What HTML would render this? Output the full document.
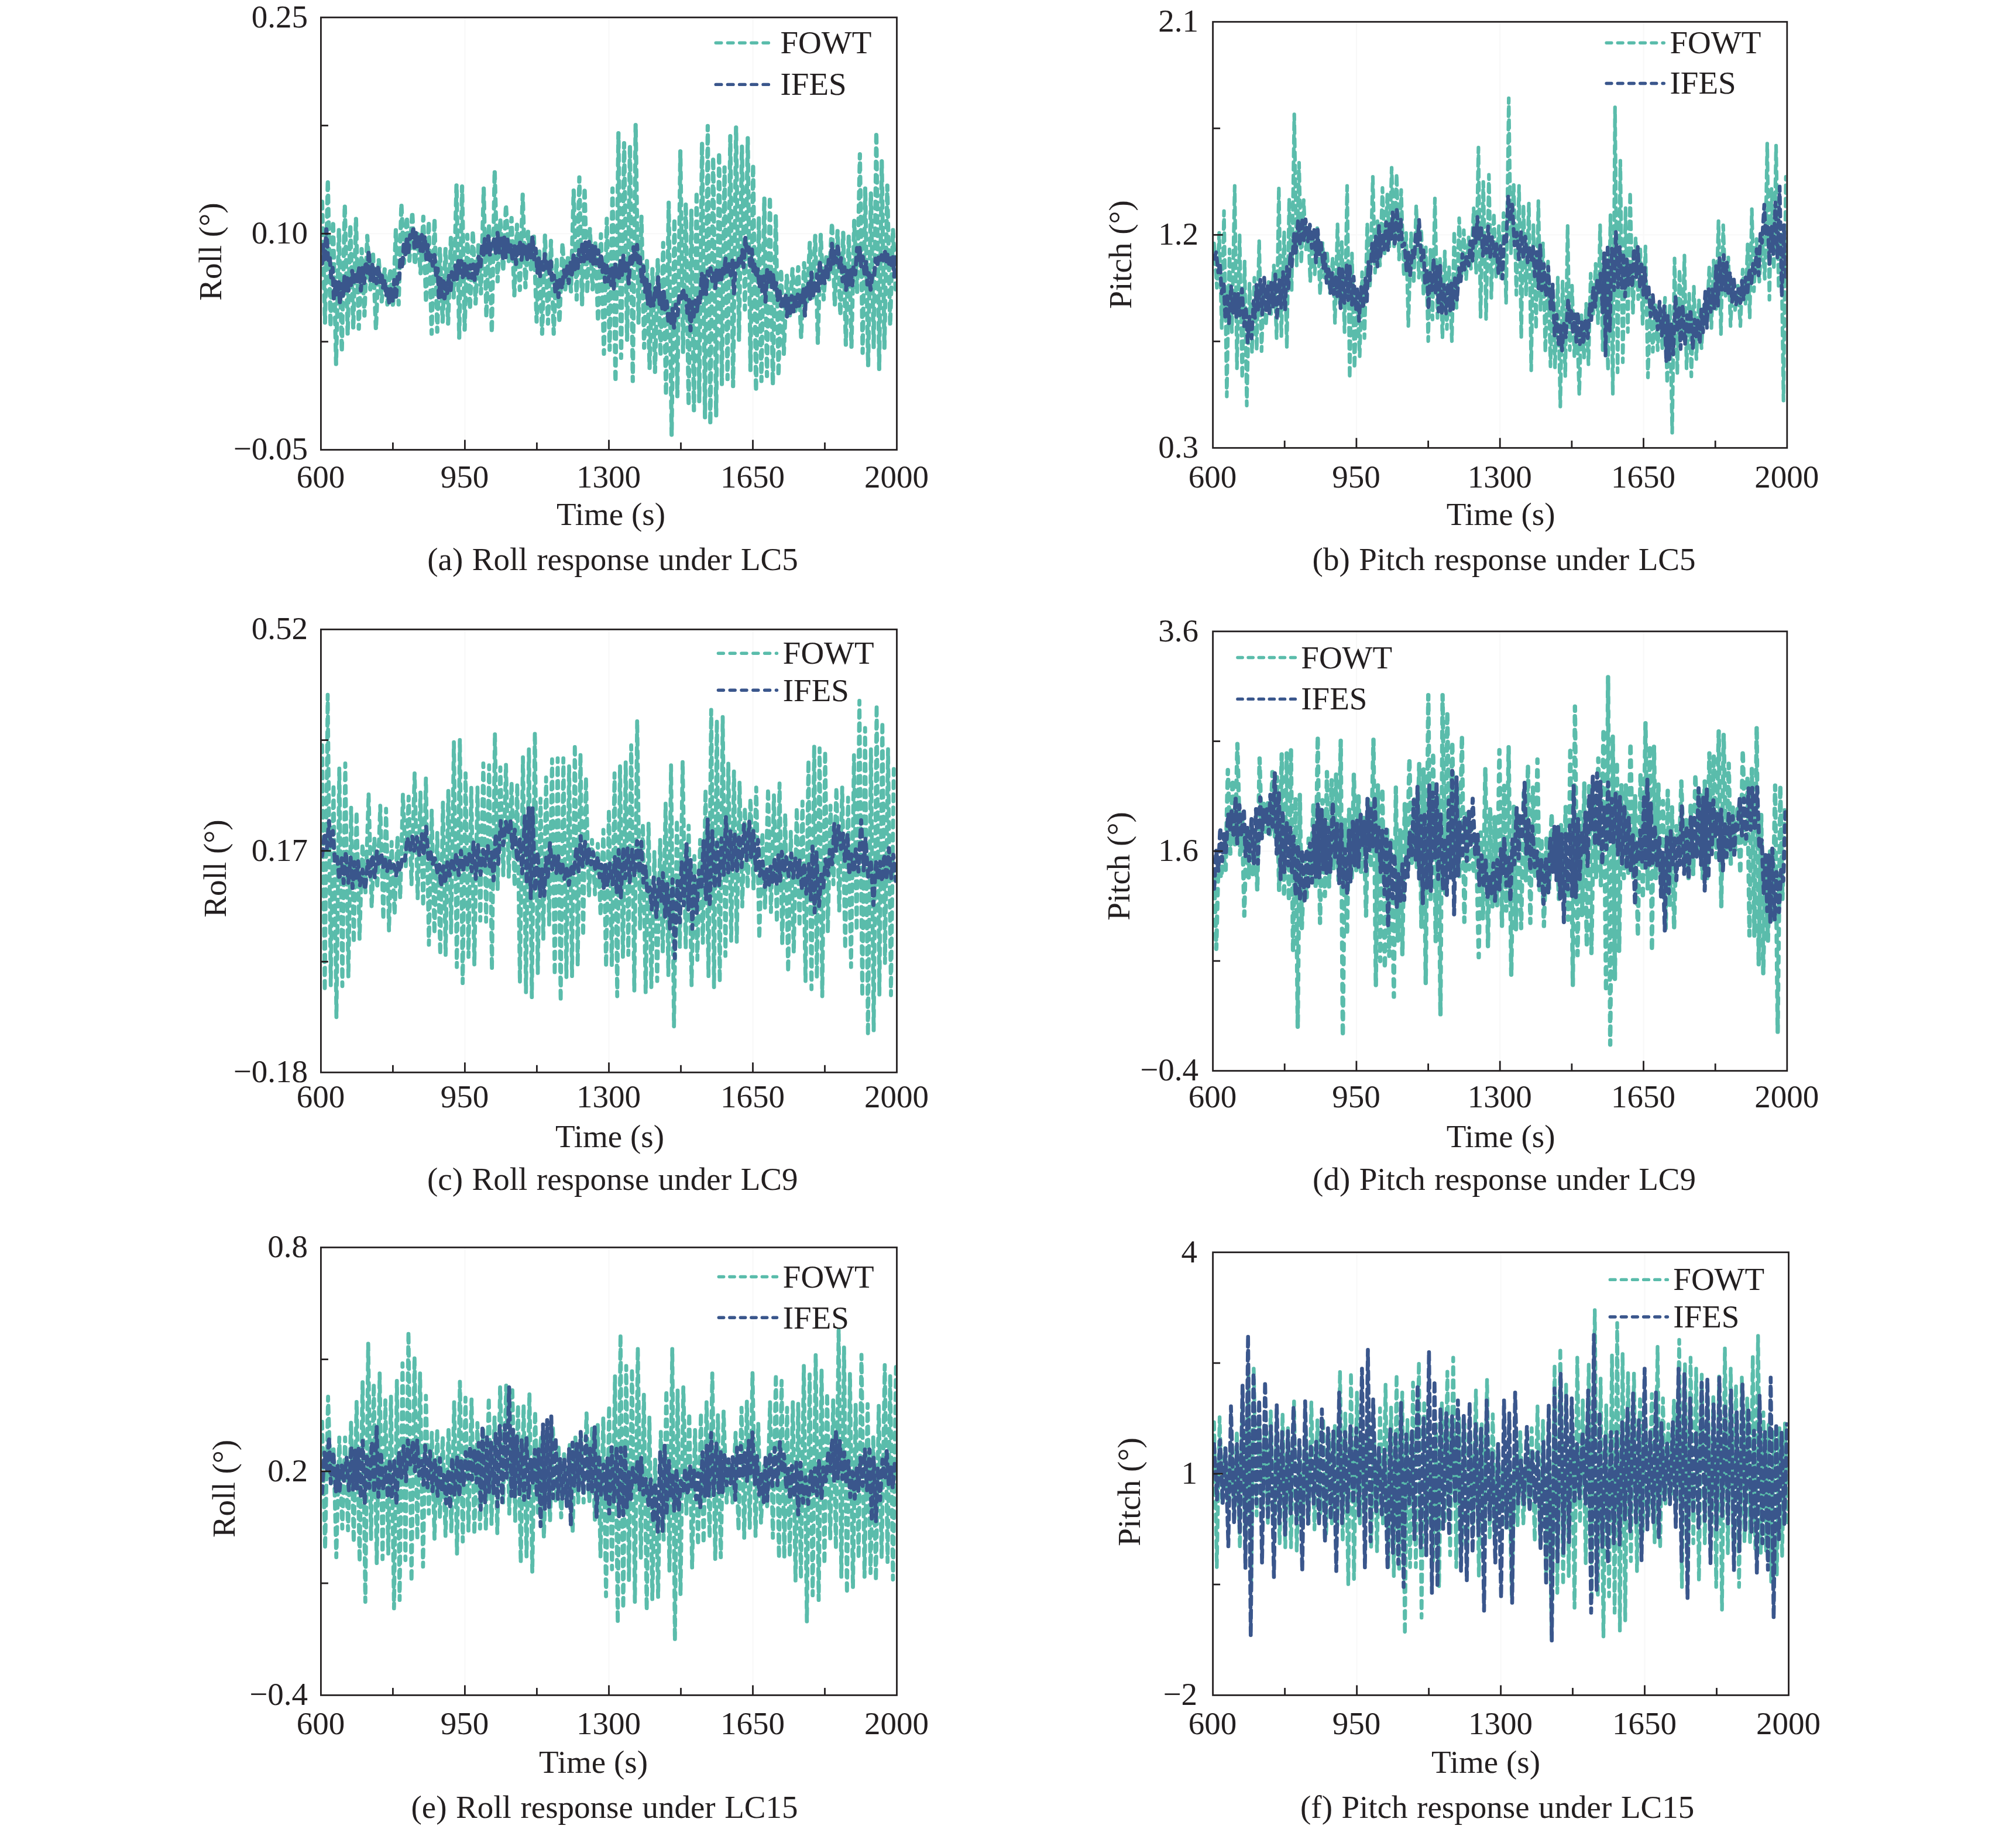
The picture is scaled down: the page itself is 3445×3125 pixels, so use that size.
<!DOCTYPE html>
<html lang="en"><head><meta charset="utf-8"><title>Roll and pitch responses under LC5, LC9 and LC15</title>
<style>
html,body{margin:0;padding:0;background:#fff;}
body{width:3445px;height:3125px;overflow:hidden;font-family:"Liberation Serif","Times New Roman",serif;}
svg{display:block;}
text{white-space:pre;}
</style></head><body>
<svg width="3445" height="3125" viewBox="0 0 3445 3125" font-family="'Liberation Serif', 'Times New Roman', serif" fill="#231f20">
<g stroke="#f8f8f8" stroke-width="2"><line x1="794.4" y1="29.8" x2="794.4" y2="768.5"/><line x1="1040.5" y1="29.8" x2="1040.5" y2="768.5"/><line x1="1286.5" y1="29.8" x2="1286.5" y2="768.5"/><line x1="548.4" y1="399.2" x2="1532.5" y2="399.2"/></g>
<clipPath id="cpa"><rect x="549.8" y="31.2" width="981.3" height="735.9"/></clipPath>
<g clip-path="url(#cpa)">
<polyline points="550.4,344.6 555.4,551.2 560.2,306.7 564.8,558.1 569.2,377.3 574.3,621.8 579.2,391.0 584.1,601.1 589.2,349.7 594.1,571.8 598.6,384.2 603.7,561.5 608.3,372.1 613.1,561.5 618.0,425.5 622.8,539.1 627.6,403.1 632.7,494.4 637.4,432.4 642.4,563.2 647.1,442.7 652.3,515.0 657.4,459.9 662.0,520.2 666.7,459.7 671.6,525.3 676.5,391.0 681.2,520.2 685.9,348.0 690.4,449.6 695.2,370.4 699.6,445.5 704.5,361.8 708.9,453.0 713.9,399.8 718.7,466.8 723.4,370.4 728.0,517.3 732.6,378.5 737.6,570.1 742.5,373.8 747.2,566.7 751.6,424.3 756.4,549.5 761.3,425.5 765.7,552.9 770.5,404.8 775.3,508.1 780.1,315.3 784.7,577.0 789.6,318.7 794.0,563.2 798.6,401.4 803.1,528.8 808.0,394.5 812.7,518.5 817.5,418.6 821.9,501.2 826.6,322.2 831.1,542.6 835.7,384.2 840.4,568.4 845.3,291.2 850.3,480.6 854.9,373.8 859.8,463.4 864.6,349.7 869.4,446.1 874.1,372.5 878.9,504.7 883.5,384.2 888.3,495.5 893.2,332.5 897.9,490.9 902.5,394.5 907.3,459.9 912.3,403.1 917.0,549.4 921.5,425.5 926.4,570.1 931.3,401.4 936.4,552.9 941.5,411.7 946.2,570.1 951.1,442.7 956.0,551.2 961.2,415.2 965.9,494.4 970.9,435.8 975.7,497.8 980.3,325.6 985.4,511.6 990.0,303.2 994.6,521.9 999.0,320.5 1003.4,501.2 1008.0,391.0 1012.6,494.4 1017.5,411.7 1021.9,549.4 1026.9,400.3 1032.0,604.5 1036.9,373.8 1041.8,597.7 1046.7,322.2 1051.8,652.8 1056.8,227.5 1061.4,611.4 1066.5,244.7 1071.6,580.4 1076.5,248.1 1081.3,651.0 1086.2,212.0 1091.1,551.2 1096.1,370.4 1100.7,594.2 1105.4,442.7 1110.0,628.7 1114.9,459.9 1119.3,635.5 1124.0,442.7 1128.7,608.0 1133.3,415.2 1138.1,675.1 1142.7,346.3 1147.7,744.0 1152.4,373.8 1157.5,676.9 1162.6,258.5 1167.2,601.1 1171.9,346.3 1176.7,692.4 1181.4,360.1 1185.8,701.0 1190.4,327.3 1194.9,685.5 1199.6,243.0 1204.7,713.0 1209.4,215.4 1213.8,725.1 1218.7,268.8 1223.8,709.6 1228.8,260.2 1233.5,656.2 1238.1,286.0 1243.2,647.6 1247.9,232.6 1252.7,659.6 1257.8,217.1 1262.8,580.4 1267.8,249.9 1272.9,528.8 1277.8,236.1 1282.4,632.1 1286.9,280.9 1291.9,668.3 1296.7,370.4 1301.1,651.0 1306.1,337.7 1310.6,642.4 1315.6,336.0 1320.6,657.9 1325.7,366.9 1330.3,642.4 1334.7,459.9 1339.4,604.5 1344.5,470.2 1349.6,539.1 1354.2,459.9 1358.9,535.7 1364.0,456.5 1369.0,577.0 1374.1,449.6 1379.1,515.0 1383.8,415.2 1388.3,511.6 1393.1,403.1 1397.5,585.6 1402.5,401.4 1407.4,511.6 1412.2,435.8 1416.8,477.1 1421.7,380.7 1426.5,521.9 1431.2,394.7 1436.0,538.8 1440.9,397.9 1445.4,589.0 1450.4,401.4 1455.0,592.5 1459.7,377.3 1464.6,501.2 1469.4,263.6 1474.1,602.8 1478.5,320.5 1483.5,625.2 1488.2,329.1 1493.0,594.2 1497.5,225.8 1502.4,630.4 1506.8,275.7 1511.3,594.2 1516.2,317.0 1521.1,556.3 1525.9,391.0 1530.4,494.4" fill="none" stroke="#5abcab" stroke-width="7.2" stroke-dasharray="11.5 11.3" stroke-linecap="round" stroke-linejoin="round" />
<polyline points="550.4,450.4 552.5,418.6 554.7,447.6 557.7,391.8 560.7,445.8 563.4,439.3 566.0,474.1 568.4,457.8 570.6,513.0 573.4,481.6 575.8,502.8 578.8,481.4 580.9,519.8 583.4,485.6 586.2,505.0 588.7,473.1 590.7,496.5 593.3,475.2 595.4,496.6 597.4,477.0 599.6,489.6 601.8,463.1 604.7,482.7 607.6,464.5 610.5,480.5 613.5,458.4 616.7,496.2 619.2,456.5 622.3,483.5 625.1,446.7 627.9,470.0 630.1,427.9 633.2,479.0 636.1,452.5 638.8,480.1 641.1,460.1 643.4,483.7 646.3,453.5 649.3,482.4 652.2,465.6 654.2,492.7 657.3,477.3 660.0,505.8 662.2,493.8 665.1,516.8 668.0,492.6 671.2,516.6 673.7,478.6 676.5,511.5 679.7,468.6 682.2,476.6 684.3,438.7 687.2,459.0 690.2,416.7 692.9,434.6 695.5,405.4 697.7,432.8 700.9,401.8 704.0,411.5 706.0,387.5 708.2,422.8 710.7,397.9 713.4,424.2 716.1,400.1 718.5,428.3 720.7,401.4 722.7,429.1 725.8,403.2 728.6,442.6 731.0,418.8 734.0,449.5 737.0,436.3 739.5,454.0 742.5,435.8 745.5,473.5 748.0,459.1 750.0,508.1 752.9,475.6 755.2,506.7 757.4,475.3 759.6,509.9 762.3,484.0 764.3,500.7 767.3,471.3 769.8,500.2 772.1,465.0 775.0,478.4 778.3,453.8 780.7,477.0 783.4,446.1 785.8,466.1 788.4,446.1 791.0,473.6 793.9,449.3 796.2,472.6 798.8,454.9 800.8,474.2 803.8,453.2 806.2,474.7 808.7,451.9 811.0,478.2 813.2,449.0 815.4,470.5 817.9,438.7 821.0,457.1 823.9,419.1 826.3,435.1 828.4,408.6 831.3,435.6 834.3,403.8 837.3,436.4 839.4,417.2 841.5,424.3 844.2,409.0 847.3,432.0 850.2,398.1 853.4,431.3 856.6,402.5 859.6,440.8 861.7,406.1 864.2,440.3 867.0,408.6 869.9,430.9 872.8,419.1 875.9,445.1 879.0,418.0 881.9,451.1 884.3,418.0 886.5,435.2 889.0,412.4 891.2,443.8 893.8,418.8 896.1,435.6 898.2,421.0 901.4,445.4 904.0,416.8 907.0,440.4 910.0,403.8 912.8,443.0 915.4,425.0 918.3,466.0 920.5,441.4 922.9,471.8 925.9,446.2 928.9,461.0 931.0,434.2 934.1,462.9 936.4,448.8 939.1,467.2 941.3,446.8 943.4,483.1 946.5,470.6 949.4,503.1 951.4,477.7 954.3,507.6 957.2,473.5 960.4,493.3 963.6,462.0 966.7,477.3 969.1,451.9 971.8,483.5 974.8,446.8 977.1,470.3 980.1,436.4 982.6,463.8 985.0,438.3 987.0,461.3 989.7,427.2 993.0,446.5 995.1,414.5 997.9,446.3 1000.8,410.7 1003.5,441.9 1006.6,413.3 1009.2,448.2 1011.6,420.0 1013.9,452.4 1016.7,421.4 1019.2,450.3 1022.2,427.8 1024.9,457.9 1027.2,433.2 1029.8,464.5 1031.8,448.3 1033.8,481.3 1036.4,448.9 1039.1,480.6 1042.3,460.5 1044.3,486.8 1046.7,457.8 1048.9,493.0 1051.4,451.3 1053.5,473.4 1055.6,456.5 1057.8,474.8 1060.0,444.0 1062.7,469.6 1065.3,437.0 1068.4,466.6 1071.5,445.3 1074.4,484.4 1077.4,433.9 1079.9,454.7 1082.6,422.4 1085.3,443.1 1088.5,418.4 1090.8,449.7 1093.5,439.6 1096.7,482.2 1099.5,455.3 1102.3,498.4 1104.6,477.6 1107.1,520.9 1109.7,486.4 1111.8,522.4 1114.2,505.9 1116.7,522.6 1119.5,491.2 1122.7,510.7 1124.7,473.8 1127.2,519.4 1129.3,500.6 1132.1,530.1 1134.2,498.5 1136.6,528.6 1139.2,514.8 1142.2,549.4 1144.7,536.6 1146.9,553.6 1149.2,527.7 1151.8,559.8 1154.7,520.5 1157.8,538.5 1161.0,504.4 1164.1,511.4 1167.3,492.2 1169.9,514.4 1172.3,505.1 1174.9,539.9 1177.4,512.3 1180.0,564.4 1182.8,516.1 1184.8,545.7 1188.1,513.5 1191.0,531.9 1193.3,508.3 1196.1,519.1 1199.3,466.6 1201.9,505.1 1204.1,472.0 1206.8,502.2 1209.3,463.7 1212.1,472.6 1214.2,458.2 1217.2,480.1 1219.4,465.1 1222.3,491.9 1224.3,462.1 1227.3,478.1 1229.5,460.7 1232.3,480.8 1234.9,457.0 1237.2,467.3 1239.9,441.8 1243.1,468.4 1245.7,451.3 1248.8,470.5 1251.8,445.2 1254.2,501.6 1257.2,450.2 1260.1,459.9 1262.7,442.4 1265.7,451.0 1268.6,426.9 1270.6,456.3 1273.7,405.9 1276.2,431.7 1279.3,422.7 1282.4,458.8 1284.9,426.6 1287.1,465.5 1289.4,448.7 1292.4,474.5 1294.8,460.0 1297.9,491.9 1300.3,470.0 1302.5,497.2 1305.5,472.2 1308.1,515.4 1311.0,459.9 1313.9,486.6 1316.0,462.5 1318.9,490.5 1320.9,469.9 1323.6,493.3 1326.8,483.6 1329.0,514.7 1331.8,494.1 1334.9,522.9 1338.0,507.1 1340.1,525.0 1342.8,505.2 1344.9,540.7 1347.3,510.2 1349.9,539.7 1352.9,505.9 1356.1,532.1 1358.6,506.3 1361.0,523.4 1363.3,503.2 1365.4,522.2 1368.2,503.9 1370.4,516.5 1373.1,494.3 1375.5,539.7 1377.5,488.4 1379.8,505.3 1382.2,479.0 1384.3,510.4 1386.6,466.1 1389.3,506.4 1392.0,482.9 1394.0,501.1 1396.2,468.7 1398.7,497.0 1400.8,444.9 1403.4,484.7 1406.4,462.6 1409.1,484.2 1411.4,453.7 1414.1,476.1 1416.1,443.9 1418.7,460.2 1421.6,416.6 1423.8,450.7 1426.9,429.6 1429.7,448.2 1431.7,416.5 1434.7,459.4 1437.1,440.9 1439.9,480.6 1443.1,456.8 1445.8,495.2 1448.0,462.7 1450.7,489.6 1453.9,460.6 1456.4,487.5 1458.5,454.9 1461.5,468.8 1464.7,423.7 1466.8,443.9 1468.9,423.6 1471.6,455.1 1474.4,438.4 1477.4,468.7 1480.1,446.8 1482.2,486.1 1484.8,466.6 1487.7,494.9 1490.8,467.5 1493.8,471.6 1496.2,441.9 1499.0,455.3 1502.0,434.9 1505.1,443.8 1507.5,431.5 1509.5,444.6 1512.2,429.8 1514.6,449.7 1516.8,432.5 1519.2,450.5 1521.7,439.7 1523.8,457.2 1526.0,438.6 1528.1,472.6 1530.8,432.8" fill="none" stroke="#3a568c" stroke-width="7.0" stroke-dasharray="11.5 11" stroke-linecap="round" stroke-linejoin="round" />
</g>
<g stroke="#231f20" stroke-width="2.8"><line x1="671.4" y1="768.5" x2="671.4" y2="756.0"/><line x1="794.4" y1="768.5" x2="794.4" y2="751.5"/><line x1="917.4" y1="768.5" x2="917.4" y2="756.0"/><line x1="1040.5" y1="768.5" x2="1040.5" y2="751.5"/><line x1="1163.5" y1="768.5" x2="1163.5" y2="756.0"/><line x1="1286.5" y1="768.5" x2="1286.5" y2="751.5"/><line x1="1409.5" y1="768.5" x2="1409.5" y2="756.0"/><line x1="548.4" y1="214.5" x2="560.9" y2="214.5"/><line x1="548.4" y1="399.2" x2="565.4" y2="399.2"/><line x1="548.4" y1="583.8" x2="560.9" y2="583.8"/><rect x="548.4" y="29.8" width="984.1" height="738.7" fill="none"/></g>
<text x="526.0" y="46.6" text-anchor="end" font-size="55">0.25</text>
<text x="526.0" y="416.0" text-anchor="end" font-size="55">0.10</text>
<text x="526.0" y="785.3" text-anchor="end" font-size="55">−0.05</text>
<text x="547.9" y="832.7" text-anchor="middle" font-size="55">600</text>
<text x="793.9" y="832.7" text-anchor="middle" font-size="55">950</text>
<text x="1040.0" y="832.7" text-anchor="middle" font-size="55">1300</text>
<text x="1286.0" y="832.7" text-anchor="middle" font-size="55">1650</text>
<text x="1532.0" y="832.7" text-anchor="middle" font-size="55">2000</text>
<text x="1044.0" y="897.0" text-anchor="middle" font-size="55">Time (s)</text>
<text word-spacing="1.8" x="1047.0" y="974.0" text-anchor="middle" font-size="55">(a) Roll response under LC5</text>
<text x="378.0" y="430.1" text-anchor="middle" font-size="55" transform="rotate(-90 378.0 430.1)">Roll (°)</text>
<line x1="1223.2" y1="73.3" x2="1313.4" y2="73.3" stroke="#5abcab" stroke-width="5.4" stroke-dasharray="9.6 10.6" stroke-linecap="round"/>
<line x1="1223.2" y1="144.4" x2="1313.4" y2="144.4" stroke="#3a568c" stroke-width="5.4" stroke-dasharray="9.6 10.6" stroke-linecap="round"/>
<text x="1333.5" y="91.3" text-anchor="start" font-size="55">FOWT</text>
<text x="1333.5" y="161.8" text-anchor="start" font-size="55">IFES</text>
<g stroke="#f8f8f8" stroke-width="2"><line x1="2317.9" y1="37.3" x2="2317.9" y2="765.3"/><line x1="2563.2" y1="37.3" x2="2563.2" y2="765.3"/><line x1="2808.5" y1="37.3" x2="2808.5" y2="765.3"/><line x1="2072.6" y1="401.3" x2="3053.8" y2="401.3"/></g>
<clipPath id="cpb"><rect x="2074.0" y="38.7" width="978.4" height="725.2"/></clipPath>
<g clip-path="url(#cpb)">
<polyline points="2074.6,415.8 2079.4,491.6 2083.4,397.8 2087.7,560.4 2091.6,360.7 2096.4,677.5 2101.0,426.1 2105.1,567.3 2109.9,317.7 2113.7,629.3 2118.3,402.0 2122.7,646.5 2126.9,446.8 2130.5,693.0 2135.2,484.7 2139.5,602.7 2143.5,474.6 2147.5,598.3 2151.7,410.6 2155.8,600.0 2159.4,491.6 2163.3,556.0 2167.9,481.9 2172.0,536.3 2176.8,453.7 2181.5,577.7 2185.3,319.4 2189.6,574.2 2194.4,395.2 2199.0,594.9 2203.0,339.1 2207.2,498.2 2211.7,195.4 2215.8,453.7 2219.9,278.1 2223.6,450.2 2227.8,341.8 2231.7,426.1 2235.3,388.3 2239.0,481.2 2242.9,393.2 2246.7,468.6 2251.0,388.3 2255.8,503.6 2259.9,415.3 2263.5,474.4 2267.9,433.0 2272.7,500.9 2277.4,439.9 2281.2,551.8 2285.6,383.1 2289.2,519.1 2292.9,412.6 2297.6,567.4 2302.0,317.7 2306.4,646.5 2310.3,433.0 2314.6,629.3 2318.7,501.9 2323.5,608.7 2327.6,465.2 2331.7,577.7 2336.4,381.4 2341.0,491.6 2345.9,302.2 2349.7,466.0 2353.9,377.9 2358.1,453.7 2362.4,321.1 2366.0,433.0 2370.7,332.0 2374.4,421.1 2378.1,286.7 2382.2,421.0 2386.6,297.0 2390.8,443.4 2394.4,324.6 2398.8,471.8 2402.8,398.0 2406.6,557.0 2411.4,398.6 2415.8,484.7 2420.1,350.4 2424.6,474.4 2428.7,391.7 2432.4,503.8 2436.5,422.7 2440.6,582.8 2444.3,426.9 2447.9,545.9 2452.0,339.0 2456.4,543.2 2460.7,439.9 2464.9,577.7 2468.9,429.6 2472.5,562.1 2476.2,455.2 2481.0,582.8 2485.0,395.2 2489.0,526.0 2493.5,372.8 2497.4,474.4 2501.4,393.4 2505.4,477.8 2509.8,405.5 2513.5,459.2 2518.3,355.8 2522.5,467.5 2526.4,252.2 2530.0,541.5 2534.7,310.8 2539.5,544.9 2544.3,298.7 2548.4,508.8 2552.7,364.2 2556.7,474.4 2561.3,386.3 2565.2,475.2 2569.3,364.2 2573.7,517.4 2578.2,167.9 2581.9,433.0 2586.7,316.0 2591.2,503.6 2595.8,317.7 2599.6,577.7 2603.3,350.4 2607.8,505.3 2612.6,346.9 2616.6,632.8 2620.3,384.6 2624.9,562.0 2628.8,343.5 2632.5,529.4 2636.7,415.8 2640.7,601.8 2645.3,446.8 2649.5,625.9 2653.4,487.7 2657.2,629.6 2662.0,474.4 2666.3,694.7 2670.2,481.2 2674.8,643.1 2678.8,384.8 2682.5,598.3 2686.3,488.1 2690.3,608.4 2694.2,536.3 2698.7,674.1 2702.4,537.0 2706.9,612.0 2710.5,519.1 2714.4,622.4 2718.2,467.5 2722.6,536.3 2726.7,450.8 2730.7,553.8 2734.3,384.8 2738.8,598.3 2743.0,439.9 2747.8,632.9 2752.0,367.6 2756.0,674.1 2759.8,183.4 2764.2,636.2 2768.9,274.6 2773.1,619.0 2777.8,353.8 2781.7,567.3 2785.6,328.0 2790.4,536.3 2795.1,405.9 2799.4,511.2 2803.0,426.1 2807.0,553.6 2811.8,421.0 2816.0,644.8 2820.6,508.8 2824.4,601.0 2828.7,518.5 2832.7,598.3 2836.8,526.0 2840.7,594.9 2845.2,508.8 2848.9,654.9 2853.5,522.1 2857.5,739.5 2861.5,441.6 2866.2,639.6 2870.0,460.6 2874.7,577.7 2878.4,436.5 2882.0,629.3 2886.6,501.9 2890.2,643.1 2894.5,489.8 2898.8,613.5 2903.2,511.9 2907.6,594.9 2911.6,519.1 2916.3,552.4 2920.8,457.1 2924.5,560.4 2928.3,445.2 2932.5,530.3 2936.6,377.9 2940.8,570.8 2944.7,384.8 2948.8,505.3 2953.4,439.9 2957.2,557.0 2961.1,477.8 2965.0,529.6 2969.8,488.1 2974.0,557.0 2978.0,460.6 2982.7,519.8 2986.4,417.5 2990.0,543.2 2993.6,357.3 2997.1,497.6 3001.6,408.3 3006.4,481.2 3010.9,398.6 3015.7,476.3 3019.9,245.4 3023.6,512.2 3027.3,321.1 3031.3,460.6 3035.0,248.8 3039.4,492.8 3043.6,398.6 3047.7,684.4 3051.7,302.2" fill="none" stroke="#5abcab" stroke-width="6.2" stroke-dasharray="13.3 9.5" stroke-linecap="round" stroke-linejoin="round" />
<polyline points="2074.6,442.3 2078.2,431.0 2081.8,465.3 2084.7,450.3 2087.7,501.4 2091.2,485.1 2093.8,545.2 2097.2,502.2 2100.1,552.2 2103.7,488.7 2107.1,534.2 2110.0,500.2 2112.8,543.1 2115.8,502.2 2118.7,538.7 2122.3,493.8 2126.0,557.3 2129.2,524.4 2132.0,585.1 2135.2,541.2 2138.8,578.2 2142.0,514.7 2144.5,543.1 2147.0,486.7 2150.0,529.0 2153.8,477.9 2156.9,537.4 2160.3,474.4 2163.6,533.8 2166.1,487.8 2169.2,535.3 2172.3,481.8 2175.5,524.6 2179.3,469.0 2182.2,546.5 2186.2,477.1 2189.3,525.7 2192.5,464.8 2196.0,529.3 2199.2,455.9 2201.7,492.9 2205.0,431.6 2207.5,455.3 2211.4,399.5 2214.3,431.9 2218.2,375.4 2221.4,419.0 2225.1,372.9 2228.3,411.9 2231.0,374.7 2235.0,412.5 2238.4,383.8 2241.6,423.7 2245.5,389.7 2248.8,448.5 2251.8,392.4 2254.5,434.5 2257.5,414.9 2261.2,457.8 2263.8,432.9 2267.0,483.4 2270.4,455.5 2273.5,502.0 2276.5,466.6 2279.0,502.5 2282.7,472.0 2285.2,506.1 2288.3,459.0 2290.8,526.5 2293.7,456.4 2297.4,518.0 2301.3,452.9 2303.7,512.9 2306.6,455.3 2310.1,520.7 2313.1,472.8 2317.1,530.4 2319.7,490.9 2322.3,548.4 2325.9,490.4 2329.4,527.2 2333.3,475.8 2335.8,515.4 2338.3,447.8 2340.9,478.7 2344.7,416.4 2347.8,448.8 2350.9,403.5 2353.8,455.3 2356.5,385.6 2359.1,437.8 2362.7,398.2 2365.1,426.4 2368.7,379.6 2371.9,427.4 2374.6,381.9 2377.4,410.2 2379.8,362.9 2383.6,420.0 2386.9,355.2 2390.5,409.5 2393.8,373.3 2396.3,421.4 2399.8,415.8 2403.6,462.9 2406.5,431.5 2409.5,472.0 2413.5,427.7 2416.9,442.1 2419.5,397.0 2422.2,421.7 2425.0,375.8 2428.8,444.9 2432.5,427.7 2435.0,483.7 2438.3,461.4 2441.0,528.6 2443.8,461.8 2447.0,495.8 2449.7,441.8 2453.2,499.7 2455.7,453.9 2458.2,532.2 2461.0,452.7 2463.6,537.6 2467.3,486.7 2471.0,535.5 2474.3,483.8 2477.8,530.6 2480.2,484.4 2483.0,527.8 2486.3,472.1 2489.9,513.0 2493.3,458.3 2496.2,480.5 2499.0,434.1 2502.8,460.7 2506.1,437.9 2509.9,453.8 2512.4,412.5 2516.1,447.7 2518.6,385.9 2521.6,415.0 2524.6,370.7 2527.1,409.6 2531.0,388.3 2534.1,437.0 2536.6,400.4 2540.1,431.8 2543.0,386.6 2546.4,440.7 2549.8,403.9 2553.8,437.3 2557.1,416.9 2560.5,466.6 2564.5,419.0 2567.4,476.0 2570.3,404.1 2573.9,412.9 2577.3,333.6 2580.2,378.4 2584.1,349.5 2588.1,419.4 2592.1,397.5 2595.6,442.9 2599.3,396.1 2603.2,441.2 2606.5,404.3 2610.4,448.4 2613.6,421.0 2616.6,446.6 2619.8,421.7 2622.5,472.0 2626.4,430.5 2629.1,492.9 2632.0,417.3 2634.6,495.8 2638.3,451.1 2641.9,506.4 2645.7,455.6 2649.6,528.6 2653.2,486.3 2656.6,573.5 2660.1,537.7 2663.8,592.9 2666.5,556.8 2669.3,598.8 2672.6,553.3 2675.7,577.4 2679.6,510.5 2682.6,551.8 2685.1,527.4 2687.9,569.7 2690.6,536.9 2693.7,584.0 2696.3,533.4 2699.7,588.0 2702.7,550.3 2705.5,588.0 2709.3,545.7 2713.3,577.7 2716.8,518.1 2719.3,546.8 2722.6,489.6 2726.1,524.3 2729.2,478.9 2731.9,500.2 2734.9,467.5 2738.7,533.8 2741.2,430.7 2743.6,607.4 2747.2,418.2 2750.9,565.2 2754.3,424.9 2758.1,495.9 2761.3,395.1 2764.8,490.9 2767.9,422.1 2771.5,494.6 2774.0,431.9 2777.0,506.9 2780.0,443.2 2782.6,486.7 2785.7,450.4 2789.3,491.0 2792.0,424.6 2796.0,473.6 2798.7,421.9 2802.5,492.1 2804.9,447.0 2808.2,503.8 2810.7,457.8 2813.5,510.2 2817.2,489.1 2820.6,540.9 2824.4,504.3 2827.6,545.3 2830.2,528.6 2832.7,562.9 2835.9,515.4 2839.8,573.5 2843.8,523.1 2847.4,619.1 2849.9,538.3 2852.6,613.9 2856.0,552.7 2859.3,605.5 2863.2,506.4 2866.4,568.1 2869.2,523.3 2871.8,596.3 2875.4,520.8 2879.3,589.8 2882.8,538.6 2885.5,571.6 2888.9,528.5 2892.7,596.5 2895.9,546.2 2898.3,574.7 2901.2,545.6 2904.6,587.6 2907.2,528.9 2910.2,567.8 2914.1,497.5 2916.8,560.0 2919.9,494.1 2923.3,532.7 2926.0,494.5 2929.7,527.4 2932.4,454.1 2935.8,522.3 2938.2,439.7 2942.2,495.0 2945.5,435.8 2948.2,496.1 2950.9,448.7 2953.3,505.1 2956.2,465.1 2959.9,515.9 2962.7,475.0 2966.6,520.5 2970.6,493.7 2973.9,517.8 2976.5,479.9 2979.4,512.2 2983.0,473.9 2986.0,504.1 2989.4,459.1 2992.9,483.9 2995.6,450.6 2998.5,467.0 3001.9,425.8 3005.1,470.6 3008.3,399.1 3010.9,415.1 3014.8,349.6 3017.2,403.2 3020.8,383.1 3023.7,452.2 3027.3,386.7 3030.2,434.1 3033.9,346.0 3037.3,440.6 3041.2,318.8 3044.8,506.9 3048.6,384.8 3051.6,475.2" fill="none" stroke="#3a568c" stroke-width="6.4" stroke-dasharray="12 9.7" stroke-linecap="round" stroke-linejoin="round" />
</g>
<g stroke="#231f20" stroke-width="2.8"><line x1="2195.2" y1="765.3" x2="2195.2" y2="752.8"/><line x1="2317.9" y1="765.3" x2="2317.9" y2="748.3"/><line x1="2440.6" y1="765.3" x2="2440.6" y2="752.8"/><line x1="2563.2" y1="765.3" x2="2563.2" y2="748.3"/><line x1="2685.9" y1="765.3" x2="2685.9" y2="752.8"/><line x1="2808.5" y1="765.3" x2="2808.5" y2="748.3"/><line x1="2931.2" y1="765.3" x2="2931.2" y2="752.8"/><line x1="2072.6" y1="219.3" x2="2085.1" y2="219.3"/><line x1="2072.6" y1="401.3" x2="2089.6" y2="401.3"/><line x1="2072.6" y1="583.3" x2="2085.1" y2="583.3"/><rect x="2072.6" y="37.3" width="981.2" height="728.0" fill="none"/></g>
<text x="2048.0" y="54.1" text-anchor="end" font-size="55">2.1</text>
<text x="2048.0" y="418.1" text-anchor="end" font-size="55">1.2</text>
<text x="2048.0" y="782.1" text-anchor="end" font-size="55">0.3</text>
<text x="2072.1" y="832.7" text-anchor="middle" font-size="55">600</text>
<text x="2317.4" y="832.7" text-anchor="middle" font-size="55">950</text>
<text x="2562.7" y="832.7" text-anchor="middle" font-size="55">1300</text>
<text x="2808.0" y="832.7" text-anchor="middle" font-size="55">1650</text>
<text x="3053.3" y="832.7" text-anchor="middle" font-size="55">2000</text>
<text x="2564.6" y="897.0" text-anchor="middle" font-size="55">Time (s)</text>
<text word-spacing="1.8" x="2570.0" y="974.3" text-anchor="middle" font-size="55">(b) Pitch response under LC5</text>
<text x="1933.2" y="434.9" text-anchor="middle" font-size="55" transform="rotate(-90 1933.2 434.9)">Pitch (°)</text>
<line x1="2745.1" y1="73.3" x2="2843.3" y2="73.3" stroke="#5abcab" stroke-width="5.4" stroke-dasharray="8.8 10.4" stroke-linecap="round"/>
<line x1="2745.1" y1="142.5" x2="2843.3" y2="142.5" stroke="#3a568c" stroke-width="5.4" stroke-dasharray="8.8 10.4" stroke-linecap="round"/>
<text x="2853.5" y="91.3" text-anchor="start" font-size="55">FOWT</text>
<text x="2853.5" y="160.4" text-anchor="start" font-size="55">IFES</text>
<g stroke="#f8f8f8" stroke-width="2"><line x1="794.4" y1="1075.4" x2="794.4" y2="1832.3"/><line x1="1040.5" y1="1075.4" x2="1040.5" y2="1832.3"/><line x1="1286.5" y1="1075.4" x2="1286.5" y2="1832.3"/><line x1="548.4" y1="1453.8" x2="1532.5" y2="1453.8"/></g>
<clipPath id="cpc"><rect x="549.8" y="1076.8" width="981.3" height="754.1"/></clipPath>
<g clip-path="url(#cpc)">
<polyline points="550.4,1273.3 555.0,1693.4 560.0,1187.2 565.2,1683.1 569.9,1340.5 574.9,1738.2 579.8,1311.2 585.0,1684.8 590.0,1304.3 595.3,1669.3 600.0,1380.1 604.5,1610.8 609.3,1386.9 614.4,1603.9 619.4,1442.0 624.6,1524.7 629.9,1356.0 635.1,1550.5 639.8,1431.7 644.7,1517.8 649.8,1376.6 655.0,1571.2 659.7,1381.8 664.7,1590.1 669.2,1438.6 674.3,1562.6 679.2,1428.3 683.9,1535.0 688.5,1357.7 693.4,1479.9 698.3,1361.1 703.2,1510.9 708.5,1321.5 713.7,1535.0 718.5,1354.2 723.1,1548.8 727.8,1330.1 732.9,1614.2 737.7,1385.2 742.3,1595.3 747.3,1423.1 752.3,1631.4 756.9,1371.4 761.5,1631.4 766.1,1349.1 770.8,1593.6 775.6,1268.1 780.6,1652.1 785.8,1263.0 790.6,1679.6 795.6,1321.5 800.6,1634.9 805.3,1346.2 810.6,1648.7 815.9,1345.6 820.7,1572.9 825.9,1304.3 830.7,1574.6 835.8,1307.7 840.6,1657.3 845.7,1252.6 850.3,1521.2 855.0,1311.2 860.0,1495.4 864.6,1306.0 869.4,1499.2 874.1,1336.3 879.3,1514.4 883.9,1338.7 888.4,1679.6 893.6,1294.0 898.8,1695.1 903.8,1280.2 908.8,1703.7 914.0,1250.9 919.0,1662.4 923.6,1364.6 928.4,1603.9 933.2,1328.4 938.4,1581.5 943.4,1297.4 947.9,1665.9 953.0,1295.7 958.1,1710.6 962.7,1295.7 967.9,1669.3 972.5,1309.5 977.5,1667.6 982.3,1271.6 987.2,1650.4 991.9,1287.1 996.5,1598.7 1001.3,1328.4 1006.4,1531.6 1011.6,1435.2 1016.7,1528.1 1021.5,1442.0 1026.2,1564.3 1031.1,1417.9 1035.7,1652.1 1040.5,1383.5 1045.5,1650.9 1050.1,1321.5 1054.7,1702.0 1059.5,1307.7 1064.5,1636.6 1069.2,1302.6 1073.7,1631.4 1078.6,1273.3 1083.9,1693.4 1088.8,1230.3 1093.7,1588.4 1098.6,1407.6 1103.3,1696.9 1108.3,1405.9 1113.0,1686.5 1118.2,1455.8 1123.0,1676.2 1128.1,1435.2 1132.6,1628.0 1137.4,1373.2 1142.1,1665.9 1146.7,1307.7 1151.7,1753.7 1156.7,1400.7 1161.7,1617.7 1166.5,1300.9 1171.7,1621.1 1176.8,1411.0 1181.8,1683.1 1186.6,1462.7 1191.7,1640.0 1196.4,1435.2 1201.1,1610.8 1205.6,1349.1 1210.7,1667.6 1215.3,1213.0 1220.1,1686.5 1225.0,1230.3 1229.9,1677.9 1235.0,1225.1 1239.6,1633.2 1244.6,1304.3 1249.5,1607.3 1254.2,1318.1 1259.0,1609.0 1263.8,1335.3 1268.4,1548.8 1272.9,1380.1 1277.6,1517.8 1282.4,1364.6 1287.6,1517.8 1292.3,1345.6 1297.5,1603.9 1302.7,1423.1 1307.3,1552.2 1312.5,1347.3 1317.4,1558.1 1322.5,1359.0 1327.5,1576.3 1332.1,1338.7 1336.7,1614.2 1341.8,1390.4 1346.8,1660.7 1351.3,1421.4 1356.4,1628.0 1361.5,1380.1 1366.2,1583.2 1371.3,1369.7 1376.5,1676.2 1381.5,1299.1 1386.7,1690.0 1391.3,1273.3 1395.9,1671.7 1400.5,1278.6 1405.1,1702.0 1410.0,1283.6 1414.6,1593.6 1419.1,1376.6 1424.2,1510.9 1429.3,1345.6 1434.1,1555.7 1439.2,1345.6 1444.3,1621.1 1449.2,1362.8 1454.3,1652.1 1459.3,1290.5 1463.9,1590.1 1468.6,1197.5 1473.5,1702.0 1478.3,1244.0 1483.2,1769.2 1488.3,1280.2 1493.0,1760.6 1498.0,1204.4 1502.7,1700.3 1507.8,1233.7 1512.3,1645.2 1517.5,1280.2 1522.5,1700.3 1527.3,1314.0" fill="none" stroke="#5abcab" stroke-width="6.8" stroke-dasharray="11.8 10.6" stroke-linecap="round" stroke-linejoin="round" />
<polyline points="550.4,1462.6 554.9,1423.0 558.5,1450.4 562.2,1402.6 565.2,1445.3 568.9,1419.6 572.2,1470.9 575.8,1462.5 579.9,1503.1 584.0,1466.4 587.2,1508.9 590.9,1455.3 595.3,1508.3 599.2,1465.2 602.5,1517.3 605.5,1473.0 608.6,1503.1 612.0,1471.6 615.1,1513.5 619.3,1485.6 623.9,1520.2 628.5,1471.0 632.6,1497.4 636.3,1460.8 640.5,1499.1 644.1,1454.0 647.0,1480.4 651.5,1457.1 654.5,1482.6 657.4,1464.0 661.5,1489.5 665.3,1468.8 669.3,1486.6 673.2,1477.6 676.8,1496.2 679.7,1473.9 683.5,1488.3 688.1,1463.5 691.8,1470.4 696.2,1431.2 700.6,1453.8 704.7,1429.5 707.8,1453.5 712.4,1430.2 716.6,1460.9 720.9,1425.3 723.8,1462.2 728.2,1412.7 732.1,1467.6 736.0,1456.3 739.0,1477.1 743.2,1466.5 747.4,1490.6 750.6,1477.5 753.7,1514.9 757.7,1479.9 760.8,1509.8 764.4,1473.3 768.5,1496.1 772.2,1468.6 776.4,1485.6 779.5,1457.2 783.9,1495.2 787.7,1453.9 791.4,1489.3 794.4,1464.1 798.2,1481.8 801.7,1457.1 806.2,1488.7 809.2,1438.8 813.0,1501.6 816.7,1443.3 821.2,1494.6 825.6,1451.8 829.2,1479.2 833.6,1445.0 837.4,1485.3 840.4,1456.1 843.4,1504.2 846.9,1424.5 851.4,1476.2 855.6,1403.0 860.0,1444.1 864.5,1404.2 868.7,1423.6 872.2,1401.5 875.5,1448.5 879.7,1417.6 883.9,1471.8 888.5,1433.5 892.4,1492.1 896.8,1394.3 900.1,1510.5 903.4,1379.2 907.0,1534.7 910.1,1381.2 914.4,1522.6 918.7,1455.8 923.1,1531.3 926.2,1485.3 930.2,1530.4 933.1,1465.5 936.0,1502.8 939.8,1440.7 943.9,1485.6 947.9,1459.6 950.8,1491.5 954.2,1463.0 957.9,1494.8 960.7,1473.1 964.6,1501.7 968.3,1483.3 972.1,1511.9 976.7,1476.8 980.3,1494.2 984.9,1448.1 988.7,1488.9 992.3,1428.7 995.5,1480.2 999.8,1438.3 1003.1,1474.9 1006.4,1450.9 1009.9,1476.9 1013.6,1455.6 1017.1,1486.5 1021.3,1463.2 1024.5,1498.9 1027.7,1477.3 1031.6,1517.0 1034.4,1475.5 1037.8,1514.5 1042.1,1475.1 1046.7,1511.2 1050.7,1464.3 1053.8,1526.4 1057.2,1452.3 1060.8,1535.0 1065.1,1447.5 1068.4,1500.5 1072.5,1449.7 1076.1,1507.3 1080.2,1451.3 1084.2,1497.0 1088.7,1437.2 1092.7,1492.6 1095.9,1438.4 1099.5,1508.0 1103.0,1478.7 1106.1,1527.5 1110.6,1516.3 1113.7,1553.7 1117.1,1499.3 1121.7,1566.8 1125.6,1501.9 1130.0,1539.4 1132.8,1491.6 1136.7,1567.4 1140.3,1510.4 1144.8,1586.5 1149.2,1502.4 1153.1,1637.1 1157.6,1505.5 1161.8,1576.0 1164.8,1472.5 1168.6,1546.9 1173.2,1441.9 1176.2,1554.2 1180.1,1467.0 1183.0,1586.8 1186.6,1497.3 1190.7,1559.9 1194.3,1487.3 1198.8,1520.1 1202.2,1437.1 1206.5,1537.4 1209.3,1400.2 1212.8,1549.1 1217.2,1420.2 1221.3,1517.2 1225.5,1439.7 1229.0,1514.3 1232.9,1432.3 1236.9,1494.7 1240.5,1396.2 1244.4,1494.1 1248.2,1420.5 1251.7,1485.9 1255.5,1423.0 1259.3,1490.2 1263.2,1426.7 1267.3,1481.5 1271.4,1408.9 1275.8,1469.8 1280.4,1404.0 1283.2,1466.8 1287.2,1419.6 1291.6,1486.6 1295.4,1434.8 1298.5,1496.3 1303.0,1471.7 1307.2,1515.4 1310.6,1485.4 1313.9,1515.2 1316.8,1481.0 1320.2,1510.3 1323.8,1465.9 1327.1,1513.8 1330.0,1461.4 1333.2,1504.9 1336.1,1455.4 1339.6,1489.9 1343.5,1464.4 1347.8,1497.0 1352.1,1458.5 1355.5,1499.6 1359.4,1465.0 1363.4,1498.8 1366.4,1470.1 1370.4,1520.9 1374.0,1474.1 1377.8,1526.9 1382.2,1476.3 1385.5,1536.9 1388.4,1446.5 1392.1,1559.2 1395.0,1454.2 1399.5,1548.2 1403.8,1488.8 1407.0,1516.4 1410.6,1468.5 1415.1,1495.4 1417.9,1452.2 1422.1,1476.8 1425.6,1408.0 1428.6,1454.4 1433.0,1411.3 1437.1,1450.6 1440.6,1424.2 1443.7,1471.1 1448.2,1424.5 1451.2,1495.0 1455.1,1459.7 1459.1,1490.6 1462.5,1449.7 1467.0,1489.1 1471.6,1401.3 1475.9,1487.0 1479.0,1432.6 1483.6,1498.1 1488.1,1469.0 1492.6,1546.4 1497.0,1472.5 1500.8,1501.8 1503.8,1472.5 1507.3,1506.7 1510.9,1460.0 1514.7,1503.6 1518.9,1449.2 1523.1,1500.5 1526.5,1460.3 1530.7,1505.2" fill="none" stroke="#3a568c" stroke-width="6.8" stroke-dasharray="11.8 10.6" stroke-linecap="round" stroke-linejoin="round" />
</g>
<g stroke="#231f20" stroke-width="2.8"><line x1="671.4" y1="1832.3" x2="671.4" y2="1819.8"/><line x1="794.4" y1="1832.3" x2="794.4" y2="1815.3"/><line x1="917.4" y1="1832.3" x2="917.4" y2="1819.8"/><line x1="1040.5" y1="1832.3" x2="1040.5" y2="1815.3"/><line x1="1163.5" y1="1832.3" x2="1163.5" y2="1819.8"/><line x1="1286.5" y1="1832.3" x2="1286.5" y2="1815.3"/><line x1="1409.5" y1="1832.3" x2="1409.5" y2="1819.8"/><line x1="548.4" y1="1264.6" x2="560.9" y2="1264.6"/><line x1="548.4" y1="1453.8" x2="565.4" y2="1453.8"/><line x1="548.4" y1="1643.1" x2="560.9" y2="1643.1"/><rect x="548.4" y="1075.4" width="984.1" height="756.9" fill="none"/></g>
<text x="526.0" y="1092.2" text-anchor="end" font-size="55">0.52</text>
<text x="526.0" y="1470.6" text-anchor="end" font-size="55">0.17</text>
<text x="526.0" y="1849.1" text-anchor="end" font-size="55">−0.18</text>
<text x="547.9" y="1891.8" text-anchor="middle" font-size="55">600</text>
<text x="793.9" y="1891.8" text-anchor="middle" font-size="55">950</text>
<text x="1040.0" y="1891.8" text-anchor="middle" font-size="55">1300</text>
<text x="1286.0" y="1891.8" text-anchor="middle" font-size="55">1650</text>
<text x="1532.0" y="1891.8" text-anchor="middle" font-size="55">2000</text>
<text x="1042.0" y="1959.9" text-anchor="middle" font-size="55">Time (s)</text>
<text word-spacing="1.8" x="1046.7" y="2033.0" text-anchor="middle" font-size="55">(c) Roll response under LC9</text>
<text x="385.7" y="1484.0" text-anchor="middle" font-size="55" transform="rotate(-90 385.7 1484.0)">Roll (°)</text>
<line x1="1227.4" y1="1116.2" x2="1327.5" y2="1116.2" stroke="#5abcab" stroke-width="5.4" stroke-dasharray="9 10.8" stroke-linecap="round"/>
<line x1="1227.4" y1="1179.3" x2="1327.5" y2="1179.3" stroke="#3a568c" stroke-width="5.4" stroke-dasharray="9 10.8" stroke-linecap="round"/>
<text x="1337.8" y="1134.1" text-anchor="start" font-size="55">FOWT</text>
<text x="1337.8" y="1198.2" text-anchor="start" font-size="55">IFES</text>
<g stroke="#f8f8f8" stroke-width="2"><line x1="2317.9" y1="1078.8" x2="2317.9" y2="1829.6"/><line x1="2563.2" y1="1078.8" x2="2563.2" y2="1829.6"/><line x1="2808.5" y1="1078.8" x2="2808.5" y2="1829.6"/><line x1="2072.6" y1="1454.2" x2="3053.8" y2="1454.2"/></g>
<clipPath id="cpd"><rect x="2074.0" y="1080.2" width="978.4" height="748.0"/></clipPath>
<g clip-path="url(#cpd)">
<polyline points="2074.6,1500.4 2078.4,1621.2 2082.0,1472.5 2086.5,1500.4 2090.9,1464.8 2094.4,1486.2 2098.2,1315.6 2102.4,1458.4 2106.3,1331.2 2110.6,1447.1 2114.5,1271.2 2119.1,1460.1 2122.6,1393.8 2126.3,1564.3 2129.8,1410.2 2133.9,1500.4 2137.6,1415.1 2141.0,1498.8 2144.9,1429.3 2148.5,1521.7 2152.4,1296.0 2156.0,1429.3 2159.5,1373.5 2162.9,1421.0 2166.7,1372.4 2170.4,1429.3 2174.4,1319.1 2178.5,1429.6 2182.1,1327.9 2185.8,1521.7 2190.2,1288.9 2194.2,1532.3 2198.8,1287.1 2202.4,1539.5 2206.0,1278.3 2209.6,1626.7 2213.8,1361.9 2217.6,1756.2 2221.2,1358.2 2224.6,1585.7 2229.0,1464.8 2232.9,1533.2 2236.3,1432.9 2239.9,1500.4 2244.5,1372.4 2248.1,1518.1 2251.8,1258.0 2255.7,1576.8 2259.8,1367.2 2264.0,1530.9 2267.5,1319.1 2271.1,1514.6 2275.5,1333.3 2278.9,1486.0 2283.2,1321.1 2287.3,1503.9 2291.1,1265.8 2294.6,1770.4 2298.3,1400.9 2301.9,1597.3 2305.4,1381.3 2309.9,1500.4 2313.5,1322.7 2317.7,1486.7 2321.4,1358.2 2325.9,1493.3 2330.1,1393.8 2334.4,1564.3 2338.1,1361.5 2342.5,1482.6 2347.0,1264.0 2351.1,1685.2 2354.6,1341.6 2358.5,1642.0 2362.3,1347.6 2366.4,1655.0 2370.4,1415.1 2374.0,1633.1 2377.9,1430.3 2381.9,1702.9 2385.3,1345.8 2388.8,1607.3 2392.7,1418.3 2396.4,1631.9 2400.5,1372.4 2404.4,1479.0 2408.4,1296.0 2412.6,1474.2 2416.8,1365.3 2421.0,1482.6 2425.2,1303.1 2428.9,1583.2 2432.6,1312.4 2436.3,1679.8 2440.7,1187.6 2444.5,1535.9 2449.0,1285.4 2453.3,1607.9 2457.7,1358.2 2461.5,1734.9 2465.1,1187.6 2469.6,1528.8 2473.1,1216.1 2477.6,1477.4 2481.7,1267.6 2485.7,1500.4 2490.0,1347.5 2493.8,1499.2 2498.2,1256.9 2502.3,1575.0 2506.5,1390.2 2510.2,1485.2 2514.4,1411.5 2518.2,1493.3 2522.5,1429.3 2526.9,1635.4 2530.4,1422.4 2534.0,1571.4 2538.2,1312.0 2542.7,1617.6 2546.4,1379.5 2550.2,1551.4 2554.2,1393.8 2558.2,1546.6 2562.2,1281.8 2566.6,1582.1 2570.4,1342.8 2574.0,1555.8 2578.0,1276.5 2582.5,1667.4 2586.8,1376.0 2590.5,1589.2 2595.0,1393.8 2599.4,1585.7 2603.8,1354.8 2607.4,1504.3 2611.0,1306.7 2615.1,1576.8 2619.5,1345.8 2623.2,1500.4 2627.2,1297.8 2630.7,1524.6 2634.1,1431.8 2638.3,1582.1 2642.8,1429.3 2647.2,1518.1 2651.4,1390.2 2655.3,1487.4 2659.7,1415.1 2663.9,1535.9 2667.6,1408.0 2671.6,1529.5 2675.4,1378.9 2679.6,1571.4 2683.4,1276.5 2687.7,1683.4 2691.3,1207.2 2695.8,1631.9 2699.8,1381.6 2703.5,1563.7 2707.3,1338.7 2711.5,1617.6 2715.6,1336.9 2719.5,1628.3 2723.8,1358.2 2727.5,1500.4 2731.2,1296.0 2735.6,1512.4 2740.1,1245.5 2744.4,1694.0 2747.9,1155.7 2751.6,1784.7 2756.0,1258.7 2759.6,1672.7 2763.0,1300.9 2766.8,1624.7 2770.8,1340.5 2774.8,1500.4 2778.3,1341.9 2782.4,1491.2 2786.2,1269.4 2790.8,1500.4 2794.2,1358.2 2798.8,1599.9 2803.4,1320.9 2807.3,1535.9 2811.9,1235.6 2815.6,1517.9 2819.3,1273.3 2822.9,1624.7 2826.4,1274.7 2829.8,1500.4 2833.9,1338.7 2838.2,1510.4 2841.8,1368.8 2846.4,1585.7 2849.9,1351.1 2853.4,1550.7 2857.2,1379.5 2860.7,1587.4 2864.9,1411.5 2869.4,1464.8 2873.1,1335.1 2877.2,1471.5 2881.3,1399.4 2885.4,1500.4 2889.0,1376.0 2893.4,1493.3 2897.1,1322.7 2900.8,1450.6 2905.3,1358.2 2909.5,1500.4 2913.1,1335.2 2917.2,1500.4 2921.0,1287.1 2924.8,1450.1 2928.5,1288.9 2932.8,1464.8 2937.0,1249.8 2941.4,1548.3 2945.4,1255.2 2949.9,1464.8 2954.1,1304.9 2957.6,1475.5 2961.2,1379.9 2965.2,1452.4 2969.3,1376.0 2973.9,1493.3 2978.1,1281.8 2982.3,1447.1 2986.0,1326.2 2989.5,1598.1 2993.6,1313.9 2997.9,1598.5 3001.9,1240.9 3005.3,1649.6 3009.6,1390.2 3013.1,1663.8 3016.7,1464.8 3021.1,1607.5 3024.8,1454.5 3029.3,1571.4 3033.4,1342.2 3037.8,1763.3 3042.2,1342.2 3045.8,1535.9 3049.9,1372.4" fill="none" stroke="#5abcab" stroke-width="7.4" stroke-dasharray="10.8 12.8" stroke-linecap="round" stroke-linejoin="round" />
<polyline points="2074.6,1518.6 2078.3,1452.5 2081.9,1487.9 2085.2,1414.3 2088.4,1471.2 2092.0,1425.0 2094.8,1458.6 2098.6,1390.3 2102.1,1417.1 2104.8,1383.8 2108.2,1431.6 2111.4,1361.6 2114.2,1441.0 2117.9,1375.8 2121.3,1429.0 2125.5,1381.6 2128.4,1462.5 2131.9,1411.1 2134.6,1470.6 2138.7,1399.5 2142.5,1476.7 2146.4,1382.5 2149.6,1475.4 2153.5,1362.5 2156.2,1432.3 2159.1,1383.6 2161.9,1403.8 2164.9,1382.8 2168.1,1424.1 2170.8,1357.9 2174.5,1417.0 2178.4,1321.2 2181.6,1458.4 2185.3,1352.5 2188.3,1502.0 2191.8,1384.8 2194.6,1489.9 2198.8,1406.6 2201.6,1478.6 2204.9,1414.5 2207.7,1491.5 2210.5,1429.4 2214.0,1530.3 2218.2,1443.7 2221.3,1537.9 2225.1,1452.3 2229.4,1542.3 2232.8,1450.3 2235.4,1518.5 2238.6,1441.4 2242.0,1508.1 2245.2,1411.1 2248.4,1497.9 2251.8,1373.2 2254.4,1501.6 2258.2,1382.3 2261.5,1487.5 2264.3,1400.7 2266.9,1493.9 2270.0,1414.3 2273.2,1490.1 2277.4,1371.0 2281.3,1464.4 2284.7,1407.3 2288.5,1509.0 2292.0,1407.7 2295.2,1515.4 2298.1,1451.1 2302.2,1528.5 2305.1,1417.6 2307.7,1506.7 2311.7,1404.3 2315.0,1478.4 2318.7,1399.8 2321.4,1481.1 2325.3,1391.9 2328.4,1446.2 2331.4,1401.4 2334.2,1491.0 2336.8,1364.9 2339.9,1452.5 2342.6,1377.7 2345.9,1448.9 2349.1,1360.5 2352.3,1454.8 2355.7,1411.9 2359.3,1489.9 2362.0,1419.3 2366.0,1527.8 2368.9,1417.4 2372.0,1584.4 2375.7,1439.7 2379.9,1534.8 2382.7,1458.6 2386.8,1552.0 2389.7,1493.5 2393.2,1541.6 2396.6,1475.8 2399.6,1537.5 2402.9,1459.6 2405.6,1498.1 2409.0,1420.9 2412.5,1464.3 2415.9,1366.9 2419.2,1471.9 2422.3,1344.1 2425.0,1501.0 2428.3,1394.6 2431.3,1544.9 2434.2,1389.1 2438.4,1519.2 2442.5,1342.0 2445.2,1524.5 2448.1,1354.2 2452.3,1465.4 2454.8,1336.7 2457.6,1501.8 2461.8,1391.7 2465.9,1521.2 2468.8,1432.2 2472.4,1528.9 2475.7,1367.7 2479.0,1499.3 2481.6,1317.2 2484.8,1562.2 2489.0,1328.0 2491.6,1496.0 2494.4,1405.3 2498.6,1466.8 2502.7,1395.9 2506.5,1471.0 2510.0,1386.9 2513.3,1446.8 2516.6,1364.8 2520.8,1460.0 2525.1,1426.3 2527.8,1513.6 2531.7,1461.5 2535.5,1515.9 2538.5,1467.1 2541.8,1535.0 2545.9,1498.4 2548.4,1528.9 2552.1,1475.2 2554.7,1539.0 2558.7,1469.5 2562.4,1519.8 2565.0,1449.0 2567.6,1496.4 2570.5,1431.3 2574.2,1513.2 2578.1,1465.5 2581.0,1539.9 2584.5,1434.6 2587.7,1476.7 2591.8,1380.7 2595.1,1466.8 2597.9,1389.6 2601.2,1434.0 2605.3,1337.5 2608.2,1458.5 2612.0,1401.0 2614.9,1487.3 2618.5,1412.1 2622.6,1481.4 2626.4,1454.7 2629.5,1512.8 2633.6,1469.2 2637.7,1544.4 2641.6,1465.2 2645.8,1526.2 2649.1,1429.9 2653.3,1490.1 2656.1,1412.5 2659.7,1503.7 2662.5,1412.9 2665.9,1536.5 2668.5,1422.7 2672.4,1575.5 2675.5,1424.9 2679.1,1519.3 2682.6,1410.6 2686.5,1533.4 2689.1,1343.0 2692.8,1533.6 2696.6,1398.6 2699.4,1502.1 2703.1,1419.7 2706.2,1455.8 2709.3,1388.6 2713.1,1479.5 2715.7,1357.8 2719.0,1416.7 2721.9,1327.0 2725.6,1444.6 2729.1,1321.5 2732.1,1443.4 2734.9,1335.7 2737.9,1477.6 2741.0,1379.8 2745.0,1450.9 2747.9,1337.1 2751.7,1440.4 2754.2,1365.0 2756.9,1442.2 2760.9,1356.3 2764.8,1459.9 2768.2,1361.7 2771.9,1475.6 2775.7,1377.0 2779.8,1484.0 2783.3,1397.1 2786.7,1489.6 2790.3,1427.3 2794.0,1546.0 2796.7,1441.1 2800.2,1472.7 2802.9,1419.1 2806.5,1475.3 2809.3,1358.9 2812.1,1482.3 2815.0,1332.2 2818.5,1477.3 2821.0,1373.0 2823.7,1478.9 2827.6,1410.4 2831.6,1479.8 2835.6,1431.8 2838.5,1534.9 2841.2,1457.0 2844.9,1589.8 2848.1,1431.1 2851.7,1525.9 2854.9,1420.2 2857.6,1482.2 2861.3,1432.3 2864.6,1503.9 2867.9,1432.5 2870.6,1477.5 2873.9,1375.3 2878.0,1493.1 2882.1,1410.8 2885.7,1501.7 2889.2,1396.4 2892.7,1464.4 2895.4,1392.5 2899.2,1464.6 2902.6,1346.8 2906.8,1477.5 2910.6,1363.0 2913.1,1521.4 2916.7,1346.7 2919.4,1501.2 2922.2,1373.4 2925.1,1459.3 2927.8,1367.6 2931.1,1428.3 2934.5,1387.6 2938.0,1470.5 2941.3,1383.6 2944.1,1487.1 2947.6,1405.0 2950.4,1463.5 2954.2,1387.2 2957.2,1454.0 2960.8,1394.6 2963.6,1460.3 2966.3,1405.8 2969.0,1417.8 2973.0,1363.3 2976.7,1427.4 2980.0,1364.6 2983.9,1432.9 2988.1,1346.9 2991.6,1417.9 2994.5,1346.2 2998.5,1419.9 3002.6,1344.9 3006.4,1450.7 3010.5,1435.3 3014.1,1527.0 3017.1,1455.6 3019.9,1556.6 3022.5,1461.5 3025.3,1575.9 3028.6,1450.1 3032.6,1571.8 3035.7,1490.0 3040.0,1558.3 3043.5,1486.5 3047.3,1505.2 3051.2,1385.0" fill="none" stroke="#3a568c" stroke-width="7.0" stroke-dasharray="11.5 11" stroke-linecap="round" stroke-linejoin="round" />
</g>
<g stroke="#231f20" stroke-width="2.8"><line x1="2195.2" y1="1829.6" x2="2195.2" y2="1817.1"/><line x1="2317.9" y1="1829.6" x2="2317.9" y2="1812.6"/><line x1="2440.6" y1="1829.6" x2="2440.6" y2="1817.1"/><line x1="2563.2" y1="1829.6" x2="2563.2" y2="1812.6"/><line x1="2685.9" y1="1829.6" x2="2685.9" y2="1817.1"/><line x1="2808.5" y1="1829.6" x2="2808.5" y2="1812.6"/><line x1="2931.2" y1="1829.6" x2="2931.2" y2="1817.1"/><line x1="2072.6" y1="1266.5" x2="2085.1" y2="1266.5"/><line x1="2072.6" y1="1454.2" x2="2089.6" y2="1454.2"/><line x1="2072.6" y1="1641.9" x2="2085.1" y2="1641.9"/><rect x="2072.6" y="1078.8" width="981.2" height="750.8" fill="none"/></g>
<text x="2048.0" y="1095.6" text-anchor="end" font-size="55">3.6</text>
<text x="2048.0" y="1471.0" text-anchor="end" font-size="55">1.6</text>
<text x="2048.0" y="1846.4" text-anchor="end" font-size="55">−0.4</text>
<text x="2072.1" y="1891.8" text-anchor="middle" font-size="55">600</text>
<text x="2317.4" y="1891.8" text-anchor="middle" font-size="55">950</text>
<text x="2562.7" y="1891.8" text-anchor="middle" font-size="55">1300</text>
<text x="2808.0" y="1891.8" text-anchor="middle" font-size="55">1650</text>
<text x="3053.3" y="1891.8" text-anchor="middle" font-size="55">2000</text>
<text x="2564.6" y="1959.9" text-anchor="middle" font-size="55">Time (s)</text>
<text word-spacing="1.8" x="2570.5" y="2033.0" text-anchor="middle" font-size="55">(d) Pitch response under LC9</text>
<text x="1930.0" y="1480.0" text-anchor="middle" font-size="55" transform="rotate(-90 1930.0 1480.0)">Pitch (°)</text>
<line x1="2114.9" y1="1123.5" x2="2213.4" y2="1123.5" stroke="#5abcab" stroke-width="5.4" stroke-dasharray="8.3 9.8" stroke-linecap="round"/>
<line x1="2114.9" y1="1194.4" x2="2213.4" y2="1194.4" stroke="#3a568c" stroke-width="5.4" stroke-dasharray="8.3 9.8" stroke-linecap="round"/>
<text x="2223.3" y="1142.4" text-anchor="start" font-size="55">FOWT</text>
<text x="2223.3" y="1211.7" text-anchor="start" font-size="55">IFES</text>
<g stroke="#f8f8f8" stroke-width="2"><line x1="794.4" y1="2131.3" x2="794.4" y2="2896.4"/><line x1="1040.5" y1="2131.3" x2="1040.5" y2="2896.4"/><line x1="1286.5" y1="2131.3" x2="1286.5" y2="2896.4"/><line x1="548.4" y1="2513.9" x2="1532.5" y2="2513.9"/></g>
<clipPath id="cpe"><rect x="549.8" y="2132.7" width="981.3" height="762.3"/></clipPath>
<g clip-path="url(#cpe)">
<polyline points="550.4,2429.2 555.6,2646.4 560.6,2386.4 565.3,2535.4 569.9,2472.0 574.7,2660.7 579.8,2456.2 584.9,2611.6 589.7,2456.2 594.7,2614.7 599.9,2429.2 604.4,2635.3 609.4,2394.3 614.5,2668.6 619.6,2361.0 624.3,2736.8 629.2,2296.0 634.0,2630.6 638.7,2364.2 643.8,2671.8 648.8,2346.7 653.7,2663.9 658.5,2392.7 663.5,2654.4 668.1,2386.4 673.3,2747.9 678.2,2359.4 682.9,2733.7 687.8,2329.3 692.8,2665.5 698.0,2275.4 703.2,2702.0 708.3,2318.2 713.1,2630.6 717.8,2346.7 722.9,2676.6 727.8,2384.8 732.7,2586.2 737.9,2448.2 742.5,2629.0 747.0,2441.9 751.7,2594.1 756.5,2454.6 761.3,2624.2 766.5,2440.3 771.3,2617.9 776.1,2395.9 780.9,2654.4 785.9,2361.0 790.8,2633.8 795.4,2388.2 800.5,2615.1 805.8,2391.1 810.6,2621.1 815.8,2431.4 820.3,2611.6 825.6,2440.3 830.3,2614.7 835.2,2388.0 839.9,2603.6 845.1,2421.3 849.8,2619.5 854.6,2368.9 859.8,2567.2 865.0,2367.3 870.3,2586.2 875.4,2370.5 880.4,2598.9 885.2,2400.7 889.9,2670.2 894.7,2400.7 899.8,2659.1 904.7,2380.0 909.6,2686.1 914.4,2411.8 919.4,2589.4 924.4,2453.0 929.4,2627.4 934.7,2453.0 939.9,2598.9 944.8,2440.3 949.5,2567.2 954.4,2472.0 959.0,2592.5 963.9,2484.7 968.5,2567.2 973.6,2468.8 978.5,2617.9 983.2,2456.2 988.0,2567.2 992.7,2453.0 997.3,2567.2 1002.3,2414.9 1007.1,2567.2 1011.8,2440.3 1016.6,2598.9 1021.4,2434.4 1026.1,2659.1 1030.9,2421.3 1035.6,2727.3 1040.8,2402.2 1045.8,2681.3 1050.9,2351.5 1055.6,2773.3 1060.3,2280.1 1065.0,2747.9 1070.1,2334.0 1074.7,2700.4 1080.0,2338.8 1084.9,2736.8 1089.9,2302.3 1095.1,2662.3 1100.3,2383.2 1105.1,2751.1 1109.7,2421.3 1114.7,2732.1 1119.5,2494.2 1124.6,2728.9 1129.2,2446.6 1134.1,2630.6 1138.7,2375.3 1144.0,2684.5 1148.8,2303.9 1153.3,2803.4 1157.9,2375.3 1162.9,2725.7 1167.7,2370.5 1172.9,2586.2 1177.8,2414.9 1182.7,2678.2 1187.7,2443.5 1192.8,2640.1 1197.7,2414.9 1202.3,2636.9 1207.4,2395.9 1212.6,2627.4 1217.2,2346.7 1222.2,2663.9 1226.8,2418.1 1231.7,2660.7 1236.5,2411.8 1241.7,2567.2 1246.5,2503.7 1251.7,2567.2 1257.0,2448.2 1262.0,2614.7 1267.1,2405.4 1271.7,2627.4 1276.3,2394.9 1281.2,2610.3 1285.9,2345.1 1291.1,2624.2 1295.7,2432.4 1300.4,2602.0 1305.6,2503.7 1310.9,2573.5 1315.9,2395.9 1320.7,2627.4 1325.8,2348.3 1331.1,2662.3 1335.6,2359.4 1340.2,2662.3 1345.0,2405.4 1349.6,2659.6 1354.8,2395.9 1359.4,2700.4 1364.0,2398.6 1368.6,2696.9 1373.6,2334.0 1378.8,2770.1 1383.5,2348.3 1388.7,2725.7 1393.9,2313.4 1399.0,2733.7 1403.9,2340.4 1408.8,2671.9 1413.4,2380.7 1418.7,2630.6 1423.8,2392.7 1428.4,2646.4 1433.1,2270.6 1437.7,2694.0 1442.3,2302.3 1447.3,2722.6 1452.4,2346.7 1457.5,2713.1 1462.1,2399.1 1467.2,2662.3 1472.1,2315.0 1477.3,2694.0 1482.6,2399.1 1487.6,2687.7 1492.3,2453.0 1496.8,2700.4 1501.6,2402.2 1506.6,2662.3 1511.9,2332.5 1516.7,2668.6 1521.2,2348.3 1525.9,2698.8 1531.2,2329.3" fill="none" stroke="#5abcab" stroke-width="6.8" stroke-dasharray="11.8 10.6" stroke-linecap="round" stroke-linejoin="round" />
<polyline points="550.4,2551.1 554.4,2482.0 558.5,2510.1 562.2,2455.2 565.2,2534.1 569.6,2480.7 573.9,2550.9 577.0,2504.0 580.1,2548.2 583.9,2503.3 587.7,2530.0 592.3,2489.9 596.2,2546.3 600.4,2471.3 603.3,2545.1 607.0,2478.4 609.8,2543.3 612.8,2475.4 616.3,2559.6 619.8,2462.0 623.3,2568.8 627.0,2484.3 631.2,2542.4 635.5,2463.5 639.5,2551.0 643.7,2435.9 646.6,2557.3 651.0,2480.7 654.8,2545.4 659.3,2506.8 662.7,2559.8 666.1,2493.7 669.4,2560.1 673.9,2496.4 677.4,2570.8 681.8,2480.3 685.8,2525.9 689.6,2470.8 693.8,2530.8 696.9,2460.8 701.1,2502.1 705.3,2462.1 709.1,2513.8 712.9,2461.2 716.3,2521.0 720.9,2496.1 723.7,2536.9 726.5,2469.9 730.6,2541.4 734.8,2479.7 739.1,2547.9 743.3,2493.6 747.8,2555.7 751.7,2491.7 754.6,2549.2 758.3,2520.0 762.3,2568.5 765.7,2511.5 769.0,2577.8 772.7,2490.6 776.7,2555.5 781.3,2487.0 784.9,2557.3 788.1,2494.6 792.6,2539.2 795.8,2481.1 800.3,2526.4 803.4,2470.7 806.4,2528.4 811.0,2476.2 814.5,2533.1 818.0,2465.3 821.5,2579.5 824.5,2436.7 828.9,2567.3 832.2,2451.8 835.6,2549.1 839.2,2462.8 843.5,2552.8 847.1,2446.8 850.0,2573.8 854.1,2436.3 858.2,2566.7 862.7,2435.1 866.0,2524.5 870.0,2370.3 873.9,2555.9 876.7,2443.1 879.8,2556.7 883.3,2454.5 887.8,2552.9 891.4,2459.1 895.6,2562.7 899.7,2456.7 903.3,2560.0 906.9,2491.4 910.5,2535.6 913.9,2477.5 917.5,2557.8 920.4,2476.3 923.8,2607.6 927.9,2433.8 931.2,2579.0 935.0,2426.5 938.3,2574.9 942.0,2419.2 945.0,2559.8 949.4,2457.0 953.4,2560.9 957.3,2493.0 961.2,2563.3 964.3,2491.3 968.6,2573.6 972.4,2474.9 975.4,2607.3 978.4,2464.9 981.5,2541.0 985.5,2466.4 988.8,2548.2 992.3,2446.6 996.8,2552.7 1001.3,2454.2 1005.2,2544.6 1008.2,2475.2 1011.7,2551.5 1016.2,2437.5 1019.3,2593.5 1023.8,2485.3 1026.7,2555.9 1031.3,2502.3 1035.2,2561.8 1038.1,2491.9 1041.0,2585.9 1045.2,2472.7 1049.1,2565.6 1053.7,2472.2 1057.8,2591.1 1060.8,2473.9 1065.2,2588.9 1068.1,2469.1 1071.2,2575.4 1074.2,2515.5 1078.0,2561.0 1081.3,2507.0 1085.3,2535.3 1089.7,2494.6 1092.9,2545.8 1095.7,2490.9 1099.3,2553.6 1103.7,2526.8 1108.1,2571.5 1112.2,2527.6 1116.2,2601.1 1119.7,2533.3 1124.2,2617.0 1128.2,2478.8 1132.3,2618.4 1135.8,2470.1 1139.0,2588.8 1143.0,2495.6 1145.9,2559.3 1149.1,2517.7 1152.2,2581.0 1156.0,2509.9 1159.8,2581.6 1163.5,2530.2 1167.8,2547.3 1170.8,2509.1 1175.1,2554.7 1179.2,2504.9 1182.6,2543.3 1186.0,2512.6 1189.6,2561.6 1193.0,2517.1 1196.6,2576.8 1200.5,2481.4 1204.9,2557.9 1207.9,2468.0 1211.1,2555.9 1215.2,2448.5 1219.5,2554.6 1224.1,2466.5 1228.5,2552.8 1231.5,2481.1 1234.8,2549.5 1237.9,2486.0 1241.8,2537.5 1245.0,2493.4 1248.9,2534.6 1252.1,2489.6 1256.5,2562.5 1259.5,2473.3 1263.3,2526.8 1266.1,2470.7 1269.7,2524.3 1272.8,2479.2 1276.5,2530.6 1279.4,2462.0 1282.3,2522.1 1285.7,2447.3 1289.9,2535.6 1293.6,2488.0 1297.3,2554.1 1301.0,2515.4 1305.1,2566.6 1308.3,2486.9 1311.2,2564.2 1315.5,2482.0 1319.8,2539.1 1323.9,2473.9 1328.5,2537.5 1332.7,2463.6 1336.4,2516.2 1339.6,2485.0 1343.7,2543.9 1347.0,2509.4 1350.2,2562.2 1353.4,2504.6 1357.9,2558.5 1360.9,2499.1 1363.9,2587.5 1367.9,2499.5 1372.4,2567.5 1376.8,2524.1 1381.1,2569.6 1385.6,2511.8 1389.6,2547.8 1392.6,2508.7 1396.1,2555.1 1399.4,2496.1 1403.9,2561.5 1406.9,2507.2 1411.3,2530.8 1415.6,2478.2 1418.5,2513.9 1422.1,2458.2 1425.3,2529.9 1428.4,2444.3 1431.9,2526.0 1435.0,2462.2 1439.5,2527.0 1442.6,2481.6 1446.3,2535.8 1449.8,2496.3 1452.9,2557.9 1456.8,2515.0 1460.6,2560.4 1464.2,2505.8 1467.0,2547.5 1470.4,2490.6 1474.1,2538.8 1478.0,2476.6 1481.6,2546.2 1485.8,2476.4 1489.7,2598.6 1493.0,2489.2 1496.9,2599.2 1500.1,2506.0 1503.9,2563.3 1508.0,2494.0 1512.3,2527.6 1515.3,2479.3 1518.7,2537.2 1522.1,2506.5 1525.6,2543.5 1529.5,2492.6" fill="none" stroke="#3a568c" stroke-width="6.8" stroke-dasharray="11.8 10.6" stroke-linecap="round" stroke-linejoin="round" />
</g>
<g stroke="#231f20" stroke-width="2.8"><line x1="671.4" y1="2896.4" x2="671.4" y2="2883.9"/><line x1="794.4" y1="2896.4" x2="794.4" y2="2879.4"/><line x1="917.4" y1="2896.4" x2="917.4" y2="2883.9"/><line x1="1040.5" y1="2896.4" x2="1040.5" y2="2879.4"/><line x1="1163.5" y1="2896.4" x2="1163.5" y2="2883.9"/><line x1="1286.5" y1="2896.4" x2="1286.5" y2="2879.4"/><line x1="1409.5" y1="2896.4" x2="1409.5" y2="2883.9"/><line x1="548.4" y1="2322.6" x2="560.9" y2="2322.6"/><line x1="548.4" y1="2513.9" x2="565.4" y2="2513.9"/><line x1="548.4" y1="2705.1" x2="560.9" y2="2705.1"/><rect x="548.4" y="2131.3" width="984.1" height="765.1" fill="none"/></g>
<text x="526.0" y="2148.1" text-anchor="end" font-size="55">0.8</text>
<text x="526.0" y="2530.7" text-anchor="end" font-size="55">0.2</text>
<text x="526.0" y="2913.2" text-anchor="end" font-size="55">−0.4</text>
<text x="547.9" y="2963.3" text-anchor="middle" font-size="55">600</text>
<text x="793.9" y="2963.3" text-anchor="middle" font-size="55">950</text>
<text x="1040.0" y="2963.3" text-anchor="middle" font-size="55">1300</text>
<text x="1286.0" y="2963.3" text-anchor="middle" font-size="55">1650</text>
<text x="1532.0" y="2963.3" text-anchor="middle" font-size="55">2000</text>
<text x="1014.0" y="3028.6" text-anchor="middle" font-size="55">Time (s)</text>
<text word-spacing="1.8" x="1033.0" y="3106.0" text-anchor="middle" font-size="55">(e) Roll response under LC15</text>
<text x="401.0" y="2543.5" text-anchor="middle" font-size="55" transform="rotate(-90 401.0 2543.5)">Roll (°)</text>
<line x1="1228.3" y1="2181.5" x2="1327.5" y2="2181.5" stroke="#5abcab" stroke-width="5.4" stroke-dasharray="8.4 10.1" stroke-linecap="round"/>
<line x1="1228.3" y1="2251.2" x2="1327.5" y2="2251.2" stroke="#3a568c" stroke-width="5.4" stroke-dasharray="8.4 10.1" stroke-linecap="round"/>
<text x="1337.8" y="2200.1" text-anchor="start" font-size="55">FOWT</text>
<text x="1337.8" y="2269.9" text-anchor="start" font-size="55">IFES</text>
<g stroke="#f8f8f8" stroke-width="2"><line x1="2318.6" y1="2139.7" x2="2318.6" y2="2896.4"/><line x1="2564.6" y1="2139.7" x2="2564.6" y2="2896.4"/><line x1="2810.5" y1="2139.7" x2="2810.5" y2="2896.4"/><line x1="2072.6" y1="2518.1" x2="3056.5" y2="2518.1"/></g>
<clipPath id="cpf"><rect x="2074.0" y="2141.1" width="981.1" height="753.9"/></clipPath>
<g clip-path="url(#cpf)">
<polyline points="2074.6,2430.0 2079.3,2677.5 2084.1,2421.5 2088.7,2569.0 2093.4,2474.1 2098.6,2572.2 2103.7,2467.3 2109.0,2585.9 2113.5,2444.3 2118.7,2645.3 2123.2,2406.3 2128.3,2619.8 2133.1,2335.1 2138.0,2704.6 2142.4,2338.5 2147.4,2589.3 2151.8,2433.4 2156.8,2580.8 2161.5,2436.7 2166.6,2602.9 2171.5,2411.4 2176.4,2602.9 2181.4,2446.9 2186.7,2636.8 2191.7,2414.7 2196.3,2643.6 2200.9,2440.2 2206.1,2643.6 2211.3,2394.4 2215.9,2650.3 2221.0,2467.3 2226.1,2602.9 2231.3,2450.3 2236.3,2602.9 2240.9,2396.1 2246.2,2613.1 2251.2,2426.6 2256.4,2585.9 2261.0,2423.2 2266.1,2623.2 2271.2,2450.3 2275.9,2602.9 2281.0,2436.3 2285.4,2606.6 2289.8,2341.9 2294.4,2633.4 2298.8,2414.7 2304.0,2708.0 2308.6,2345.3 2313.7,2697.8 2318.8,2379.2 2323.9,2602.9 2328.4,2451.8 2333.2,2593.0 2337.8,2433.4 2343.0,2643.6 2348.1,2450.3 2353.1,2650.3 2358.2,2406.3 2363.1,2602.9 2367.7,2365.6 2372.3,2677.5 2377.1,2402.9 2381.8,2692.7 2386.5,2348.6 2390.9,2685.2 2396.2,2379.2 2400.7,2792.7 2405.0,2426.3 2409.6,2677.5 2414.6,2362.2 2419.4,2677.5 2424.6,2326.6 2429.2,2763.9 2433.6,2392.7 2438.9,2602.9 2443.8,2450.3 2448.8,2670.7 2454.0,2433.4 2459.1,2711.4 2463.9,2396.1 2468.6,2602.9 2473.3,2343.6 2478.0,2657.1 2483.3,2319.8 2488.5,2677.5 2493.4,2423.0 2498.2,2639.6 2502.8,2433.4 2507.4,2636.8 2512.1,2450.3 2516.9,2602.9 2522.1,2375.8 2527.1,2692.7 2532.0,2433.4 2536.5,2602.9 2541.1,2357.1 2545.7,2630.0 2550.9,2416.4 2555.3,2623.2 2559.8,2467.3 2564.7,2580.6 2569.0,2501.2 2573.8,2613.1 2578.2,2493.0 2583.4,2731.7 2588.2,2477.8 2593.3,2607.9 2597.9,2446.9 2603.1,2602.9 2608.4,2501.2 2612.9,2569.0 2617.4,2440.2 2622.6,2633.4 2627.3,2402.9 2632.2,2644.9 2636.7,2427.6 2641.9,2689.3 2646.3,2446.9 2651.6,2804.6 2656.5,2331.7 2661.2,2721.5 2666.3,2302.9 2671.1,2708.0 2676.2,2365.6 2680.7,2694.4 2685.6,2399.5 2690.6,2746.9 2695.3,2319.8 2700.0,2602.9 2704.7,2392.7 2709.7,2670.7 2714.9,2331.7 2719.9,2730.0 2725.2,2238.5 2730.4,2728.3 2735.2,2355.4 2740.0,2796.1 2744.8,2398.8 2749.6,2727.5 2754.6,2314.7 2759.1,2755.4 2763.5,2260.5 2768.1,2785.9 2772.8,2311.4 2777.2,2769.0 2782.0,2343.6 2786.9,2667.3 2792.2,2346.9 2797.3,2684.2 2802.5,2385.9 2807.1,2616.4 2812.3,2433.4 2817.4,2589.3 2822.7,2382.0 2827.5,2636.8 2832.5,2301.2 2836.9,2645.3 2841.7,2389.3 2846.1,2569.0 2850.9,2433.4 2855.9,2556.3 2860.4,2392.8 2864.8,2569.0 2869.5,2289.3 2874.1,2711.4 2879.3,2330.0 2884.6,2687.6 2888.9,2319.8 2893.6,2636.8 2898.5,2338.5 2903.2,2701.2 2908.0,2348.6 2913.2,2636.8 2918.3,2389.2 2923.0,2640.1 2927.8,2382.5 2932.7,2711.4 2937.6,2352.0 2942.6,2750.3 2947.5,2302.9 2952.6,2653.7 2957.5,2338.5 2962.0,2636.8 2966.5,2365.6 2971.8,2711.4 2976.5,2353.7 2981.0,2635.0 2985.7,2388.3 2990.6,2636.8 2995.2,2316.4 2999.6,2650.3 3004.2,2282.5 3008.9,2653.7 3013.3,2413.1 3017.8,2651.8 3022.2,2433.4 3026.7,2704.6 3031.4,2446.9 3036.3,2691.0 3040.8,2440.2 3045.3,2660.5 3050.1,2432.2 3054.8,2602.9" fill="none" stroke="#5abcab" stroke-width="6.4" stroke-dasharray="12.5 10" stroke-linecap="round" stroke-linejoin="round" />
<polyline points="2074.6,2467.3 2079.6,2562.2 2084.9,2460.5 2089.4,2569.0 2094.2,2474.1 2099.0,2641.9 2103.5,2402.9 2108.8,2602.9 2113.7,2467.3 2118.6,2619.8 2123.3,2365.6 2128.2,2679.3 2132.7,2280.8 2137.3,2796.1 2142.0,2345.3 2146.9,2569.0 2151.7,2391.5 2156.6,2670.7 2161.8,2360.5 2166.8,2596.1 2171.8,2436.8 2176.9,2694.4 2181.7,2399.5 2186.4,2602.9 2191.0,2446.9 2196.0,2623.2 2200.8,2445.4 2205.7,2585.9 2210.4,2402.9 2215.5,2602.9 2220.4,2460.5 2225.3,2684.2 2230.3,2394.4 2235.2,2603.4 2240.2,2467.3 2244.8,2569.0 2249.4,2461.1 2254.0,2606.3 2258.9,2408.0 2264.1,2635.1 2269.3,2440.2 2274.0,2596.1 2278.5,2445.9 2283.5,2684.2 2288.4,2379.2 2293.3,2602.9 2298.5,2446.9 2302.9,2582.9 2307.7,2436.8 2312.5,2569.0 2317.6,2440.2 2322.2,2589.3 2327.4,2338.5 2332.4,2679.2 2337.5,2306.3 2342.0,2633.4 2346.5,2391.0 2351.7,2585.9 2356.2,2474.1 2361.3,2587.5 2365.9,2476.9 2371.1,2680.8 2375.7,2440.2 2380.3,2653.7 2384.7,2446.9 2389.4,2671.9 2394.2,2396.1 2398.6,2711.4 2403.1,2450.9 2408.2,2569.0 2412.8,2443.6 2417.1,2630.0 2422.5,2365.6 2427.8,2646.9 2432.7,2423.2 2437.3,2657.1 2441.9,2308.0 2446.9,2721.5 2451.3,2358.8 2456.4,2711.4 2461.6,2405.1 2466.2,2612.2 2471.5,2413.1 2476.3,2623.2 2481.4,2419.8 2486.7,2569.0 2491.3,2392.7 2496.6,2684.2 2501.3,2417.5 2506.5,2701.2 2511.3,2396.1 2516.4,2652.7 2521.6,2433.4 2526.4,2623.2 2530.8,2438.8 2536.0,2752.0 2540.4,2392.7 2545.5,2596.1 2550.1,2480.8 2555.2,2670.7 2560.0,2467.3 2565.1,2730.0 2570.1,2392.7 2574.6,2609.7 2579.1,2414.7 2584.0,2738.5 2589.1,2379.2 2594.2,2569.0 2599.1,2494.4 2603.9,2571.8 2609.2,2436.8 2613.8,2582.5 2618.5,2480.8 2623.4,2569.0 2627.8,2480.6 2632.6,2646.9 2637.5,2463.9 2642.1,2708.6 2646.5,2399.5 2651.7,2802.9 2656.4,2372.4 2661.7,2670.7 2666.9,2346.9 2671.7,2653.7 2676.5,2384.8 2681.2,2636.8 2685.8,2389.3 2690.4,2569.0 2694.8,2467.3 2699.2,2560.0 2704.5,2446.9 2709.5,2569.0 2713.9,2375.8 2719.0,2755.4 2723.7,2280.8 2728.4,2718.1 2733.5,2413.1 2738.1,2642.9 2743.2,2453.0 2747.6,2670.7 2752.8,2446.9 2757.7,2636.8 2762.7,2446.9 2767.7,2640.2 2772.1,2430.0 2776.7,2595.9 2781.1,2406.3 2785.7,2616.4 2790.7,2380.8 2795.5,2602.9 2800.5,2426.6 2805.1,2665.6 2810.4,2338.5 2815.0,2613.1 2820.0,2446.9 2825.2,2602.3 2829.8,2379.2 2834.6,2626.6 2839.0,2430.0 2844.3,2562.2 2848.9,2465.5 2853.7,2570.0 2858.6,2430.0 2863.6,2609.7 2868.3,2338.5 2873.4,2667.3 2878.4,2346.9 2883.7,2731.7 2888.2,2389.3 2893.3,2585.9 2898.2,2446.9 2902.6,2613.1 2907.8,2362.2 2913.1,2598.5 2917.6,2355.4 2922.9,2670.7 2928.2,2399.5 2933.3,2613.1 2938.1,2353.7 2942.9,2591.0 2947.9,2399.5 2952.8,2602.9 2958.1,2375.8 2963.0,2682.5 2967.8,2413.1 2972.3,2650.3 2977.6,2365.6 2982.4,2613.8 2987.7,2406.3 2992.9,2619.8 2997.3,2444.6 3002.2,2689.3 3006.8,2384.2 3011.6,2636.8 3016.0,2446.9 3021.1,2682.0 3025.8,2353.7 3030.9,2765.6 3035.2,2432.5 3039.8,2630.0 3044.4,2446.9 3049.2,2606.3 3053.6,2433.4" fill="none" stroke="#3a568c" stroke-width="6.6" stroke-dasharray="14 9.6" stroke-linecap="round" stroke-linejoin="round" />
</g>
<g stroke="#231f20" stroke-width="2.8"><line x1="2195.6" y1="2896.4" x2="2195.6" y2="2883.9"/><line x1="2318.6" y1="2896.4" x2="2318.6" y2="2879.4"/><line x1="2441.6" y1="2896.4" x2="2441.6" y2="2883.9"/><line x1="2564.6" y1="2896.4" x2="2564.6" y2="2879.4"/><line x1="2687.5" y1="2896.4" x2="2687.5" y2="2883.9"/><line x1="2810.5" y1="2896.4" x2="2810.5" y2="2879.4"/><line x1="2933.5" y1="2896.4" x2="2933.5" y2="2883.9"/><line x1="2072.6" y1="2328.9" x2="2085.1" y2="2328.9"/><line x1="2072.6" y1="2518.1" x2="2089.6" y2="2518.1"/><line x1="2072.6" y1="2707.2" x2="2085.1" y2="2707.2"/><rect x="2072.6" y="2139.7" width="983.9" height="756.7" fill="none"/></g>
<text x="2046.0" y="2156.5" text-anchor="end" font-size="55">4</text>
<text x="2046.0" y="2534.9" text-anchor="end" font-size="55">1</text>
<text x="2046.0" y="2913.2" text-anchor="end" font-size="55">−2</text>
<text x="2072.1" y="2963.3" text-anchor="middle" font-size="55">600</text>
<text x="2318.1" y="2963.3" text-anchor="middle" font-size="55">950</text>
<text x="2564.1" y="2963.3" text-anchor="middle" font-size="55">1300</text>
<text x="2810.0" y="2963.3" text-anchor="middle" font-size="55">1650</text>
<text x="3056.0" y="2963.3" text-anchor="middle" font-size="55">2000</text>
<text x="2539.0" y="3028.6" text-anchor="middle" font-size="55">Time (s)</text>
<text word-spacing="1.8" x="2558.6" y="3106.0" text-anchor="middle" font-size="55">(f) Pitch response under LC15</text>
<text x="1948.2" y="2549.0" text-anchor="middle" font-size="55" transform="rotate(-90 1948.2 2549.0)">Pitch (°)</text>
<line x1="2751.3" y1="2186.4" x2="2849.4" y2="2186.4" stroke="#5abcab" stroke-width="5.4" stroke-dasharray="8.8 10.3" stroke-linecap="round"/>
<line x1="2751.3" y1="2250.0" x2="2849.4" y2="2250.0" stroke="#3a568c" stroke-width="5.4" stroke-dasharray="8.8 10.3" stroke-linecap="round"/>
<text x="2859.3" y="2203.5" text-anchor="start" font-size="55">FOWT</text>
<text x="2859.3" y="2268.0" text-anchor="start" font-size="55">IFES</text>
</svg>
</body></html>
